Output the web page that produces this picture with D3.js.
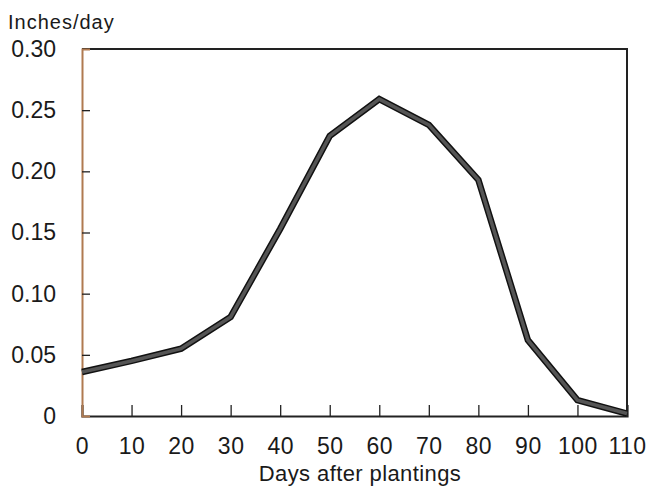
<!DOCTYPE html>
<html>
<head>
<meta charset="utf-8">
<script src="https://cdn.jsdelivr.net/npm/d3@7"></script>
<style>
  body { margin: 0; background: #fff; }
  text { font-family: "Liberation Sans", Arial, sans-serif; fill: #1a1a1a; }
</style>
</head>
<body>
<svg></svg>
<script>
const width = 649;
const height = 489;
const margin = { top: 49, right: 22, bottom: 73, left: 82 };

const days = [0, 10, 20, 30, 40, 50, 60, 70, 80, 90, 100, 110];
const inchesPerDay = [0.036, 0.045, 0.055, 0.081, 0.153, 0.229, 0.259, 0.238, 0.193, 0.062, 0.013, 0.002];
const xTicks = [0, 10, 20, 30, 40, 50, 60, 70, 80, 90, 100, 110];
const yTicks = [0, 0.05, 0.10, 0.15, 0.20, 0.25, 0.30];

const data = days.map((d, i) => ({ day: d, value: inchesPerDay[i] }));

const svg = d3.select('svg')
  .attr('width', width)
  .attr('height', height);

const xScale = d3.scaleLinear()
  .domain([0, 110])
  .range([margin.left, width - margin.right]);

const yScale = d3.scaleLinear()
  .domain([0, 0.30])
  .range([height - margin.bottom, margin.top]);

// frame: top and right edges
svg.append('path')
  .attr('d', `M${xScale(0)},${yScale(0.30)}H${xScale(110)}V${yScale(0)}`)
  .attr('fill', 'none')
  .attr('stroke', '#222')
  .attr('stroke-width', 2);

// x axis, ticks point inward
const xAxis = d3.axisBottom(xScale)
  .tickValues(xTicks)
  .tickSize(-11)
  .tickPadding(22)
  .tickFormat(d => d);

const gx = svg.append('g')
  .attr('id', 'x-axis')
  .attr('transform', `translate(0,${yScale(0)})`)
  .call(xAxis);
gx.select('.domain').attr('stroke', '#222').attr('stroke-width', 2.2);
gx.selectAll('.tick line').attr('stroke', '#222').attr('stroke-width', 1.3)
  .filter(d => d === 0 || d === 110).remove();
gx.selectAll('.tick text')
  .style('font-size', '23px')
  .style('letter-spacing', '0.5px')
  .attr('fill', d => d === 0 ? '#9a7a3a' : '#1a1a1a');

// y axis, ticks point inward
const yAxis = d3.axisLeft(yScale)
  .tickValues(yTicks)
  .tickSize(-8)
  .tickPadding(26)
  .tickFormat(d => d === 0 ? '0' : d3.format('.2f')(d));

const gy = svg.append('g')
  .attr('id', 'y-axis')
  .attr('transform', `translate(${xScale(0)},0)`)
  .call(yAxis);
gy.select('.domain').attr('stroke', '#b07a50').attr('stroke-width', 2);
gy.selectAll('.tick line').attr('stroke', '#222').attr('stroke-width', 1.3)
  .filter(d => d === 0 || d === 0.30).remove();
gy.selectAll('.tick text').style('font-size', '23px');

// curve: dark outline with grey core
const line = d3.line()
  .x(d => xScale(d.day))
  .y(d => yScale(d.value));

svg.append('path')
  .datum(data)
  .attr('d', line)
  .attr('fill', 'none')
  .attr('stroke', '#111')
  .attr('stroke-width', 6.5)
  .attr('stroke-linejoin', 'miter');

svg.append('path')
  .datum(data)
  .attr('d', line)
  .attr('fill', 'none')
  .attr('stroke', '#555')
  .attr('stroke-width', 3.5)
  .attr('stroke-linejoin', 'miter');

svg.append('text')
  .attr('x', 8)
  .attr('y', 29)
  .style('font-size', '20px')
  .style('letter-spacing', '1px')
  .text('Inches/day');

svg.append('text')
  .attr('x', 360)
  .attr('y', 481)
  .attr('text-anchor', 'middle')
  .style('font-size', '22px')
  .style('letter-spacing', '0.4px')
  .text('Days after plantings');
</script>
</body>
</html>
